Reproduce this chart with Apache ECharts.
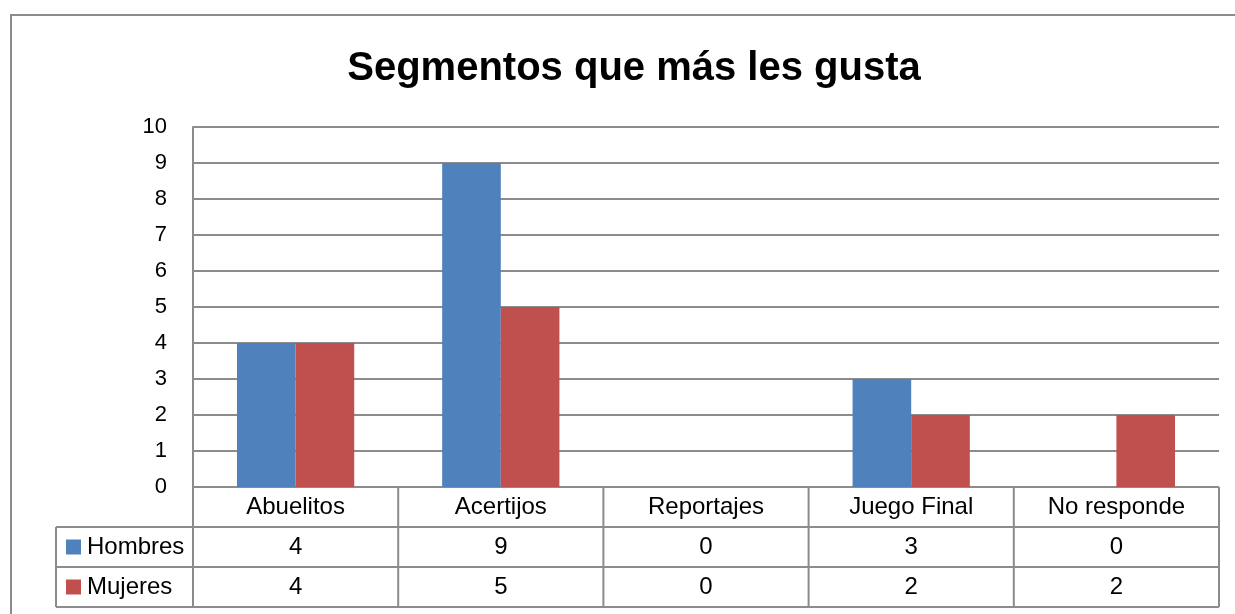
<!DOCTYPE html>
<html>
<head>
<meta charset="utf-8">
<script src="https://cdn.jsdelivr.net/npm/echarts@6/dist/echarts.min.js"></script>
<style>
  html, body { margin: 0; padding: 0; background: #fff; }
  #chart { width: 1235px; height: 614px; }
</style>
</head>
<body>
<div id="chart"></div>
<script>
var categories = ["Abuelitos", "Acertijos", "Reportajes", "Juego Final", "No responde"];
var hombres = [4, 9, 0, 3, 0];
var mujeres = [4, 5, 0, 2, 2];
var seriesNames = ["Hombres", "Mujeres"];
var colors = ["#4F81BD", "#C0504D"];

var FONT = "Liberation Sans";
var GRID = { left: 193, right: 16, top: 127, bottom: 127 };
var ROW_H = 40;
var LINE = "#8c8c8c";

var myChart = echarts.init(document.getElementById("chart"));

var option = {
  animation: false,
  backgroundColor: "#fff",
  title: {
    text: "Segmentos que más les gusta",
    left: 629,
    textAlign: "center",
    top: 44,
    textStyle: { fontFamily: FONT, fontSize: 40, fontWeight: "bold", color: "#000" }
  },
  grid: GRID,
  xAxis: {
    type: "category",
    data: categories,
    axisLine: { show: false },
    axisTick: { show: false },
    axisLabel: { show: false }
  },
  yAxis: {
    type: "value",
    min: 0,
    max: 10,
    interval: 1,
    axisLine: { show: true, lineStyle: { color: LINE, width: 2 } },
    axisTick: { show: false },
    axisLabel: { fontFamily: FONT, fontSize: 22, color: "#000", margin: 26 },
    splitLine: { lineStyle: { color: LINE, width: 2 } }
  },
  series: [
    { name: seriesNames[0], type: "bar", data: hombres, barGap: "0%", barCategoryGap: "42.86%",
      itemStyle: { color: colors[0] } },
    { name: seriesNames[1], type: "bar", data: mujeres, barGap: "0%", barCategoryGap: "42.86%",
      itemStyle: { color: colors[1] } }
  ]
};
myChart.setOption(option);

// data table under the plot, placed from the category axis
function buildTable() {
  var n = categories.length;
  var y0 = myChart.convertToPixel({ yAxisIndex: 0 }, 0);
  var c0 = myChart.convertToPixel({ xAxisIndex: 0 }, categories[0]);
  var c1 = myChart.convertToPixel({ xAxisIndex: 0 }, categories[1]);
  var band = c1 - c0;
  var x0 = c0 - band / 2;
  var xEnd = x0 + band * n;
  var tableLeft = 56;
  var els = [];
  var ls = { stroke: LINE, lineWidth: 2 };

  // outer chart frame
  els.push({ type: "rect", shape: { x: 11, y: 15, width: 1400, height: 800 },
    style: { fill: null, stroke: LINE, lineWidth: 2 }, silent: true });

  // horizontal lines
  els.push({ type: "line", shape: { x1: x0, y1: y0, x2: xEnd, y2: y0 }, style: ls });
  for (var r = 1; r <= 3; r++) {
    els.push({ type: "line", shape: { x1: tableLeft, y1: y0 + ROW_H * r, x2: xEnd, y2: y0 + ROW_H * r }, style: ls });
  }
  // vertical lines
  for (var i = 0; i <= n; i++) {
    var x = x0 + band * i;
    els.push({ type: "line", shape: { x1: x, y1: y0, x2: x, y2: y0 + ROW_H * 3 }, style: ls });
  }
  els.push({ type: "line", shape: { x1: tableLeft, y1: y0 + ROW_H, x2: tableLeft, y2: y0 + ROW_H * 3 }, style: ls });

  var ts = { fontFamily: FONT, fontSize: 24, fill: "#000", verticalAlign: "middle", align: "center" };
  categories.forEach(function (c, k) {
    var cx = myChart.convertToPixel({ xAxisIndex: 0 }, c);
    els.push({ type: "text", x: cx, y: y0 + ROW_H / 2, style: Object.assign({ text: c }, ts) });
    els.push({ type: "text", x: cx, y: y0 + ROW_H * 1.5, style: Object.assign({ text: String(hombres[k]) }, ts) });
    els.push({ type: "text", x: cx, y: y0 + ROW_H * 2.5, style: Object.assign({ text: String(mujeres[k]) }, ts) });
  });

  seriesNames.forEach(function (s, k) {
    var cy = y0 + ROW_H * (1.5 + k);
    els.push({ type: "rect", shape: { x: 66, y: cy - 7.5, width: 15, height: 15 }, style: { fill: colors[k] } });
    els.push({ type: "text", x: 87, y: cy, style: { text: s, fontFamily: FONT, fontSize: 24, fill: "#000",
      verticalAlign: "middle", align: "left" } });
  });

  myChart.setOption({ graphic: { elements: els } });
}
buildTable();
</script>
</body>
</html>
